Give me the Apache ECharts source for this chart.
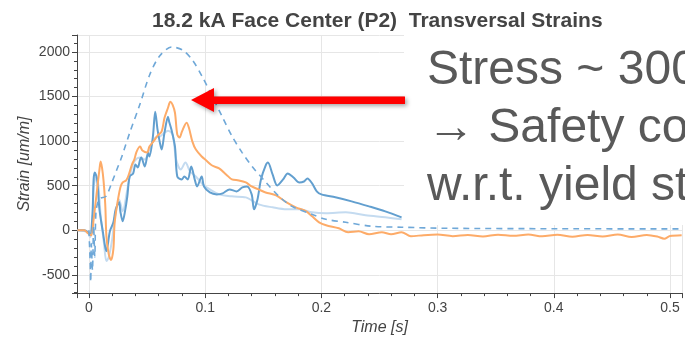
<!DOCTYPE html>
<html><head><meta charset="utf-8">
<script src="https://cdn.jsdelivr.net/npm/echarts@6/dist/echarts.min.js"></script>
<style>html,body{margin:0;padding:0;background:#fff}#c{width:685px;height:341px}</style>
</head><body><div id="c"></div>
<script>
const titleText = '18.2 kA Face Center (P2)  Transversal Strains';
const xName = 'Time [s]';
const yName = 'Strain [um/m]';
const noteLines = ['Stress ~ 300', '\u2192 Safety co', 'w.r.t. yield st'];

// Dashed blue (reference / envelope)
const dashT = [0.000,0.001,0.0015,0.002,0.003,0.004,0.005,0.006,0.008,0.010,0.0146,0.0197,0.024,0.0283,0.0351,0.0437,0.0522,0.0608,0.0711,0.0805,0.089,0.0976,0.1062,0.1147,0.1233,0.1318,0.1404,0.1524,0.1635,0.1747,0.1918,0.2038,0.2209,0.2432,0.2688,0.3091,0.4033,0.51];
const dashV = [0,-350,-580,-150,-450,50,-300,200,330,360,380,536,681,827,1095,1407,1742,1955,2055,2022,1910,1720,1497,1273,1050,871,715,536,380,268,179,123,89,45,34,22,17,15];

// Orange
const orangeT = [-0.010,-0.004,-0.001,0.002,0.004,0.007,0.009,0.010,0.012,0.014,
0.015,0.017,0.019,0.021,0.022,0.024,0.027,0.029,0.032,0.034,
0.037,0.039,0.041,0.044,0.046,0.050,0.052,0.056,0.059,0.0625,
0.065,0.068,0.070,0.072,0.074,0.076,0.078,0.080,0.084,0.086,
0.089,0.092,0.097,0.101,0.106,0.112,0.118,0.123,0.129,0.135,
0.140,0.146,0.152,0.161,0.170,0.178,0.187,0.192,0.198,0.204,
0.215,0.223,0.232,0.241,0.252,0.260,0.269,0.277,0.288,0.300,
0.313,0.326,0.339,0.352,0.365,0.378,0.390,0.403,0.416,0.429,
0.442,0.455,0.467,0.480,0.489,0.495,0.500,0.510];
const orangeV = [0,0,-34,-56,123,458,681,771,626,290,
-67,-268,-335,-212,67,268,480,536,559,614,
737,793,882,938,894,871,938,1005,1061,1106,
1262,1374,1441,1407,1318,1072,1039,1106,1206,1150,
994,905,827,782,726,693,626,570,559,536,
491,458,424,391,313,257,212,156,89,56,
22,-22,-11,-45,-22,-45,-22,-67,-55,-48,
-66,-52,-70,-50,-62,-48,-68,-50,-72,-52,
-70,-48,-75,-52,-70,-95,-65,-55];

// Dark blue
const blueT = [-0.010,-0.004,-0.001,0.001,0.003,0.004,0.005,0.007,0.009,0.012,0.014,0.015,0.018,0.021,0.023,0.026,0.027,0.029,0.031,0.033,0.035,0.038,0.040,0.042,0.044,0.045,0.048,0.051,0.052,0.055,0.057,0.059,0.061,0.0625,0.065,0.068,0.069,0.071,0.074,0.076,0.080,0.082,0.085,0.088,0.091,0.093,0.097,0.099,0.104,0.110,0.115,0.121,0.127,0.132,0.136,0.140,0.142,0.145,0.148,0.152,0.154,0.158,0.162,0.167,0.171,0.176,0.181,0.185,0.188,0.192,0.196,0.200,0.212,0.226,0.241,0.255,0.269];
const blueV = [0,0,-22,-56,179,570,648,570,235,-22,-190,-235,-11,89,235,313,212,100,212,380,603,637,737,704,793,815,715,871,827,1050,1329,1128,983,905,1095,1273,1218,1128,938,603,570,603,570,715,570,491,603,491,424,402,413,458,436,480,491,402,235,346,570,726,760,626,503,570,637,592,536,547,581,525,436,402,369,324,268,212,145];

// Light blue
const lightT = [-0.010,-0.001,0.001,0.003,0.004,0.006,0.008,0.010,0.013,0.015,0.017,0.020,0.022,0.026,0.029,0.033,0.036,0.039,0.044,0.048,0.052,0.057,0.061,0.065,0.068,0.072,0.075,0.079,0.083,0.087,0.092,0.098,0.104,0.112,0.123,0.135,0.146,0.158,0.170,0.181,0.192,0.204,0.221,0.238,0.255,0.269];
const lightV = [0,-22,-78,67,480,592,514,179,-156,-346,-302,-100,123,346,212,458,659,771,815,793,905,1039,1050,1095,1117,1072,793,681,760,659,603,514,458,402,380,369,290,257,235,235,201,190,201,168,145,123];

const pairs = (T, V) => T.map((t, i) => [t, V[i]]);
const FONT = 'Liberation Sans';

const chart = echarts.init(document.getElementById('c'), null, {renderer: 'canvas'});
const axisCol = '#444';
const option = {
  animation: false,
  title: {
    text: titleText, left: 147, top: 6, z: 100,
    textStyle: {fontFamily: FONT, fontSize: 21, fontWeight: 'bold', color: '#444'}
  },
  grid: {left: 77, right: 0, top: 35, bottom: 47},
  xAxis: {
    type: 'value', min: -0.0103, max: 0.5103,
    name: xName, nameLocation: 'middle', nameGap: 26,
    nameTextStyle: {fontFamily: FONT, fontStyle: 'italic', fontSize: 16, color: '#444'},
    axisLine: {onZero: false, lineStyle: {color: axisCol, width: 1}},
    axisTick: {length: 5, lineStyle: {color: axisCol}},
    minorTick: {show: true, splitNumber: 5, length: 3, lineStyle: {color: axisCol}},
    axisLabel: {
      fontFamily: FONT, fontSize: 14, color: '#444', margin: 8,
      formatter: v => { const r = Math.round(v * 10); return Math.abs(v * 10 - r) < 1e-6 ? (r === 0 ? '0' : String(r / 10)) : ''; }
    },
    splitLine: {show: true, lineStyle: {color: '#e6e6e6', width: 1}}
  },
  yAxis: {
    type: 'value', min: -705, max: 2190,
    name: yName, nameLocation: 'middle', nameGap: 44, nameMoveOverlap: false,
    nameTextStyle: {fontFamily: FONT, fontStyle: 'italic', fontSize: 16, color: '#444'},
    axisLine: {show: true, onZero: false, lineStyle: {color: axisCol, width: 1}},
    axisTick: {show: true, length: 5, lineStyle: {color: axisCol}},
    minorTick: {show: true, splitNumber: 5, length: 3, lineStyle: {color: axisCol}},
    axisLabel: {
      fontFamily: FONT, fontSize: 14, color: '#444', margin: 7,
      formatter: v => (Math.abs(v % 500) < 1e-6 ? String(v) : '')
    },
    splitLine: {show: true, lineStyle: {color: '#e6e6e6', width: 1}}
  },
  series: [
    {type: 'line', data: pairs(lightT, lightV), showSymbol: false, smooth: 0.3,
     lineStyle: {color: '#c4dbf0', width: 2}, z: 2},
    {type: 'line', data: pairs(blueT, blueV), showSymbol: false, smooth: 0.3,
     lineStyle: {color: '#629fcf', width: 2}, z: 3},
    {type: 'line', data: pairs(orangeT, orangeV), showSymbol: false, smooth: 0.3,
     lineStyle: {color: '#fdab68', width: 2}, z: 4},
    {type: 'line', data: pairs(dashT, dashV), showSymbol: false, smooth: 0.3,
     lineStyle: {color: '#6fa8d8', width: 1.6, type: [6, 5]}, z: 5}
  ],
  graphic: [
    {type: 'rect', z: 50, shape: {x: 404, y: 0, width: 281, height: 225}, style: {fill: '#ffffff'}},
    {type: 'polygon', z: 60,
     shape: {points: [[191, 100], [214, 88], [214, 96.5], [405, 96.5], [405, 104], [214, 104], [214, 112]]},
     style: {fill: '#ff0000', shadowColor: 'rgba(0,0,0,0.35)', shadowBlur: 4, shadowOffsetX: 2, shadowOffsetY: 2}},
    {type: 'text', z: 60, x: 427, y: 71, style: {text: noteLines[0], fontFamily: FONT, fontSize: 48, fill: '#595959', verticalAlign: 'middle'}},
    {type: 'text', z: 60, x: 427, y: 129, style: {text: noteLines[1], fontFamily: FONT, fontSize: 48, fill: '#595959', verticalAlign: 'middle'}},
    {type: 'text', z: 60, x: 427, y: 187, style: {text: noteLines[2], fontFamily: FONT, fontSize: 48, fill: '#595959', verticalAlign: 'middle'}}
  ]
};
chart.setOption(option);
</script>
</body></html>
